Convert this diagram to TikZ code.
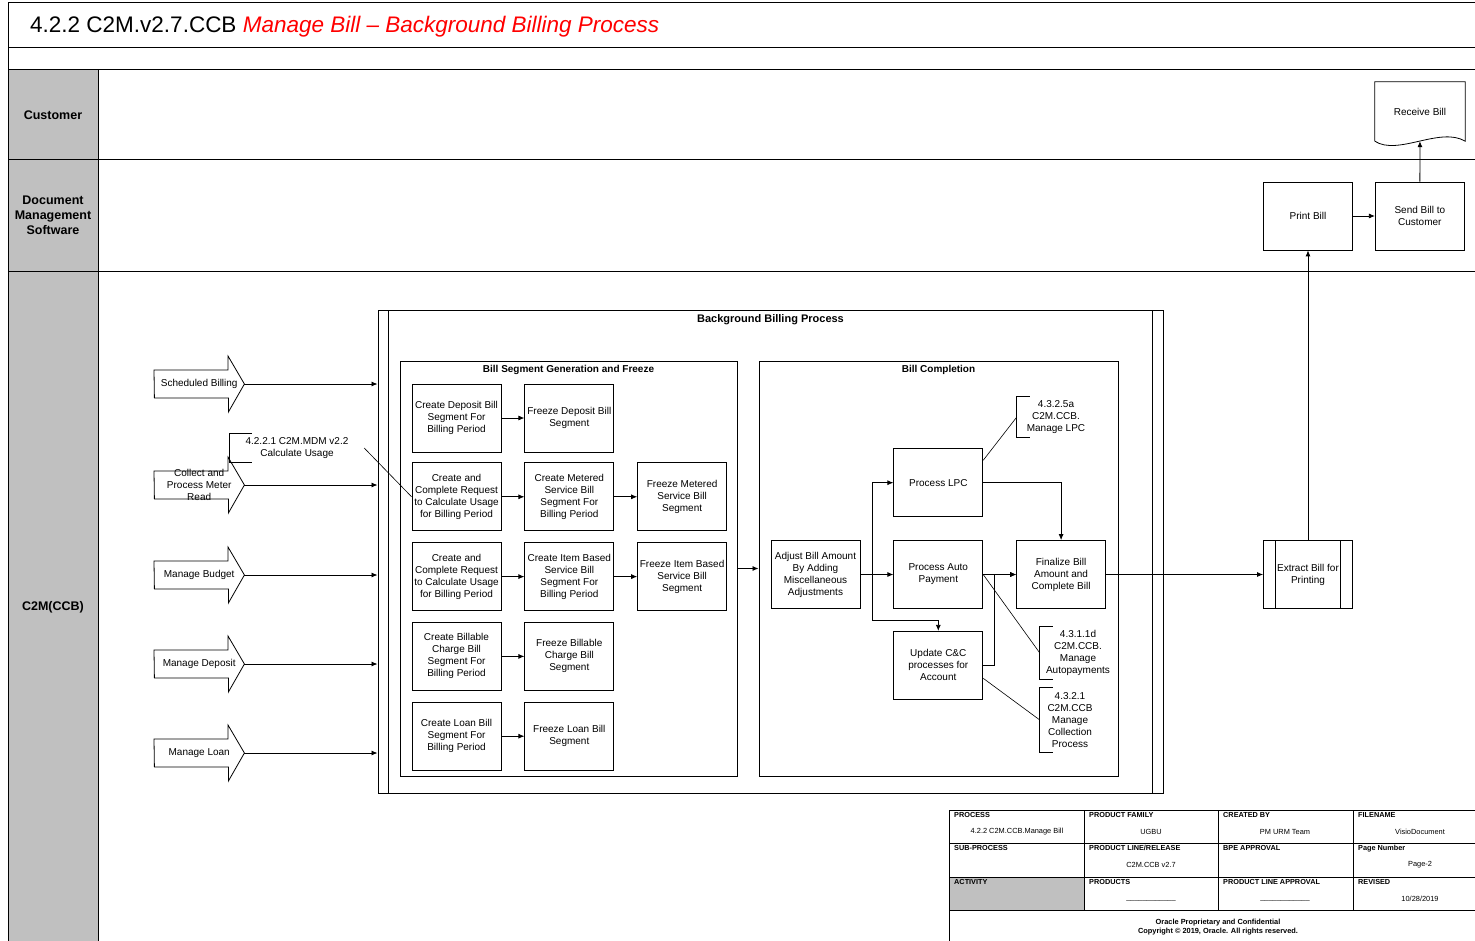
\documentclass[tikz,border=0pt]{standalone}
\usepackage{fontspec}
\setmainfont{Liberation Sans}
\usetikzlibrary{positioning,arrows.meta,calc}
\definecolor{lanegray}{RGB}{192,192,192}
\begin{document}
\begin{tikzpicture}[
  x=1pt, y=-1pt,
  every node/.style={font=\fontsize{10}{12}\selectfont},
  frame/.style={line width=1pt},
  task/.style={rectangle, draw, line width=0.8pt, minimum width=89pt, minimum height=68pt, align=center, inner sep=1pt},
  subproc/.style={task, path picture={
      \draw[line width=0.8pt] ([xshift=12pt]path picture bounding box.north west) -- ([xshift=12pt]path picture bounding box.south west)
        ([xshift=-12pt]path picture bounding box.north east) -- ([xshift=-12pt]path picture bounding box.south east);}},
  group/.style={rectangle, draw, line width=1pt, inner sep=0pt},
  grouptitle/.style={font=\bfseries\fontsize{10}{12}\selectfont, inner sep=0pt},
  feed/.style={rectangle, minimum width=90pt, minimum height=56pt, inner sep=0pt, anchor=west, align=center},
  note/.style={rectangle, align=center, inner sep=0pt},
  lane/.style={font=\bfseries\fontsize{12.5}{15}\selectfont, align=center},
  arr/.style={-{Latex[length=6pt,width=5pt]}, line width=0.8pt},
  cell/.style={font=\bfseries\fontsize{7.3}{8}\selectfont, anchor=north west, inner sep=0pt},
  val/.style={font=\fontsize{7.4}{8}\selectfont, inner sep=0pt}
]
\useasboundingbox (0,0) rectangle (1475,941);

% swimlane frame
\fill[lanegray] (8,70) rectangle (98,941);
\draw[frame] (8,3) -- (1475,3);
\draw[frame] (8,3) -- (8,941);
\draw[frame] (8,48) -- (1475,48);
\draw[frame] (8,70) -- (1475,70);
\draw[frame] (8,160) -- (1475,160);
\draw[frame] (8,272) -- (1475,272);
\draw[frame] (98,70) -- (98,941);

\node[anchor=west, inner sep=0pt] (title) at (30,27) {\fontsize{22.5}{26}\selectfont 4.2.2 C2M.v2.7.CCB \textcolor{red}{\itshape Manage Bill – Background Billing Process}};

\node[lane] (lcust) at (53,115) {Customer};
\node[lane] (ldms) at (53,215) {Document\\Management\\Software};
\node[lane] (lc2m) at (53,607) {C2M(CCB)};

% groups
\node[group, minimum width=785pt, minimum height=482pt] (bbp) at (770.5,552) {};
\draw[line width=0.8pt] ([xshift=11pt]bbp.north west) -- ([xshift=11pt]bbp.south west);
\draw[line width=0.8pt] ([xshift=-11pt]bbp.north east) -- ([xshift=-11pt]bbp.south east);
\node[grouptitle, font=\bfseries\fontsize{11}{13}\selectfont, below=4pt of bbp.north] (bbptitle) {Background Billing Process};

\node[group, minimum width=337pt, minimum height=415pt] (seg) at (568.5,568.5) {};
\node[grouptitle, below=4.5pt of seg.north] (segtitle) {Bill Segment Generation and Freeze};
\node[group, minimum width=359pt, minimum height=415pt] (comp) at (938.5,568.5) {};
\node[grouptitle, below=4.5pt of comp.north] (comptitle) {Bill Completion};

% feeding processes
\node[feed] (fsched) at (154,384) {Scheduled Billing};
\node[feed] (fmeter) at (154,485) {Collect and\\Process Meter\\Read};
\node[feed] (fbudget) at (154,575) {Manage Budget};
\node[feed] (fdeposit) at (154,664) {Manage Deposit};
\node[feed] (floanin) at (154,753) {Manage Loan};
\foreach \n in {fsched,fmeter,fbudget,fdeposit,floanin}
  \draw[line width=0.8pt] ([yshift=14pt]\n.west) -- ++(74,0) -- ++(0,-14) -- (\n.east) -- ++(-16,28) -- ++(0,-14) -- ++(-74,0) -- cycle;

\draw[arr] (fsched.east) -- (fsched.east -| bbp.west);
\draw[arr] (fmeter.east) -- (fmeter.east -| bbp.west);
\draw[arr] (fbudget.east) -- (fbudget.east -| bbp.west);
\draw[arr] (fdeposit.east) -- (fdeposit.east -| bbp.west);
\draw[arr] (floanin.east) -- (floanin.east -| bbp.west);

% bill segment generation and freeze
\node[task] (cdep) at (456.5,418) {Create Deposit Bill\\Segment For\\Billing Period};
\node[task, right=23pt of cdep] (fdep) {Freeze Deposit Bill\\Segment};
\node[task, below=10pt of cdep] (creqa) {Create and\\Complete Request\\to Calculate Usage\\for Billing Period};
\node[task, right=23pt of creqa] (cmet) {Create Metered\\Service Bill\\Segment For\\Billing Period};
\node[task, right=23pt of cmet] (fmet) {Freeze Metered\\Service Bill\\Segment};
\node[task, below=11pt of creqa] (creqb) {Create and\\Complete Request\\to Calculate Usage\\for Billing Period};
\node[task, right=23pt of creqb] (citem) {Create Item Based\\Service Bill\\Segment For\\Billing Period};
\node[task, right=23pt of citem] (fitem) {Freeze Item Based\\Service Bill\\Segment};
\node[task, below=11pt of creqb] (cbc) {Create Billable\\Charge Bill\\Segment For\\Billing Period};
\node[task, right=23pt of cbc] (fbc) {Freeze Billable\\Charge Bill\\Segment};
\node[task, below=11pt of cbc] (cloan) {Create Loan Bill\\Segment For\\Billing Period};
\node[task, right=23pt of cloan] (floan) {Freeze Loan Bill\\Segment};

\draw[arr] (cdep) -- (fdep);
\draw[arr] (creqa) -- (cmet);
\draw[arr] (cmet) -- (fmet);
\draw[arr] (creqb) -- (citem);
\draw[arr] (citem) -- (fitem);
\draw[arr] (cbc) -- (fbc);
\draw[arr] (cloan) -- (floan);

\node[note, minimum width=134pt, minimum height=28pt] (ncalc) at (297,448) {4.2.2.1 C2M.MDM v2.2\\Calculate Usage};
\draw[line width=0.8pt] ([xshift=22pt]ncalc.north west) -- (ncalc.north west) -- (ncalc.south west) -- ([xshift=22pt]ncalc.south west);
\draw[line width=0.6pt] (ncalc.east) -- (creqa.west);

\draw[arr] (seg) -- (comp);

% bill completion
\node[task] (adjust) at (815.5,574.5) {Adjust Bill Amount\\By Adding\\Miscellaneous\\Adjustments};
\node[task, right=33pt of adjust] (auto) {Process Auto\\Payment};
\node[task, above=23pt of auto] (lpc) {Process LPC};
\node[task, below=22pt of auto] (update) {Update C\&C\\processes for\\Account};
\node[task, right=33pt of auto] (final) {Finalize Bill\\Amount and\\Complete Bill};

\coordinate (split) at ($(adjust.east)+(12,0)$);
\draw[arr] (adjust) -- (auto);
\draw[arr] (split) |- (lpc);
\draw[arr] (split) -- ++(0,45.5) -| (update);
\draw[arr] (lpc) -| (final);
\draw[arr] (auto) -- (final);
\draw[arr] (update.east) -- ++(11,0) |- (final.west);

\node[note, minimum width=78pt, minimum height=40pt] (nlpc) at (1056,417) {4.3.2.5a\\C2M.CCB.\\Manage LPC};
\draw[line width=0.8pt] ([xshift=13pt]nlpc.north west) -- (nlpc.north west) -- (nlpc.south west) -- ([xshift=13pt]nlpc.south west);
\draw[line width=0.6pt] ([yshift=-12pt]lpc.north east) -- (nlpc.west);

\node[note, minimum width=76pt, minimum height=53pt] (nautopay) at (1078,653) {4.3.1.1d\\C2M.CCB.\\Manage\\Autopayments};
\draw[line width=0.8pt] ([xshift=13pt]nautopay.north west) -- (nautopay.north west) -- (nautopay.south west) -- ([xshift=13pt]nautopay.south west);
\draw[line width=0.6pt] (auto.east) -- (nautopay.west);

\node[note, minimum width=60pt, minimum height=64pt] (ncollect) at (1070,720) {4.3.2.1\\C2M.CCB\\Manage\\Collection\\Process};
\draw[line width=0.8pt] ([xshift=13pt]ncollect.north west) -- (ncollect.north west) -- (ncollect.south west) -- ([xshift=13pt]ncollect.south west);
\draw[line width=0.6pt] ([yshift=-13pt]update.east) -- (ncollect.west);

% printing and delivery
\node[subproc] (extract) at (1308,574.5) {Extract Bill for\\Printing};
\node[task] (print) at (1308,216) {Print Bill};
\node[task, right=22pt of print] (send) {Send Bill to\\Customer};
\node[rectangle, minimum width=90pt, minimum height=59pt, inner sep=0pt] (recv) at (1420,111.5) {\raisebox{-2pt}{Receive Bill}};
\draw[line width=0.8pt] (recv.south west) -- (recv.north west) -- (recv.north east) -- (recv.south east)
  .. controls ($(recv.south east)+(-25,-15)$) and ($(recv.south west)+(23,15)$) .. (recv.south west);

\draw[arr] (final) -- (extract);
\draw[arr] (extract) -- (print);
\draw[arr] (print) -- (send);
\draw[arr] (send) -- (recv);

% title block
\fill[lanegray] (949,877) rectangle (1084,910);
\draw[line width=1pt] (949,810) -- (1475,810);
\draw[line width=1pt] (949,843) -- (1475,843);
\draw[line width=1pt] (949,877) -- (1475,877);
\draw[line width=1pt] (949,910) -- (1475,910);
\draw[line width=1pt] (949,810) -- (949,941);
\draw[line width=1pt] (1084,810) -- (1084,910);
\draw[line width=1pt] (1218,810) -- (1218,910);
\draw[line width=1pt] (1353,810) -- (1353,910);

\foreach \lab/\x/\y [count=\i] in {PROCESS/954/812, {PRODUCT FAMILY}/1089/812, {CREATED BY}/1223/812, FILENAME/1358/812,
    SUB-PROCESS/954/845, {PRODUCT LINE/RELEASE}/1089/845, {BPE APPROVAL}/1223/845, {Page Number}/1358/845,
    ACTIVITY/954/879, PRODUCTS/1089/879, {PRODUCT LINE APPROVAL}/1223/879, REVISED/1358/879}
  \node[cell] (hd\i) at (\x,\y) {\lab};

\foreach \lab/\x/\y [count=\i] in {{4.2.2 C2M.CCB.Manage Bill}/1017/832, UGBU/1151/832, {PM URM Team}/1285/832, VisioDocument/1420/832,
    {C2M.CCB v2.7}/1151/865, Page-2/1420/865,
    {\_\_\_\_\_\_\_\_\_\_\_\_}/1151/900, {\_\_\_\_\_\_\_\_\_\_\_\_}/1285/900, {10/28/2019}/1420/899}
  \node[val] (va\i) at (\x,\y) {\lab};

\node[font=\bfseries\fontsize{7.4}{9}\selectfont, align=center, inner sep=0pt] (copy) at (1218,927.5)
  {Oracle Proprietary and Confidential\\Copyright © 2019, Oracle. All rights reserved.};
\end{tikzpicture}
\end{document}
